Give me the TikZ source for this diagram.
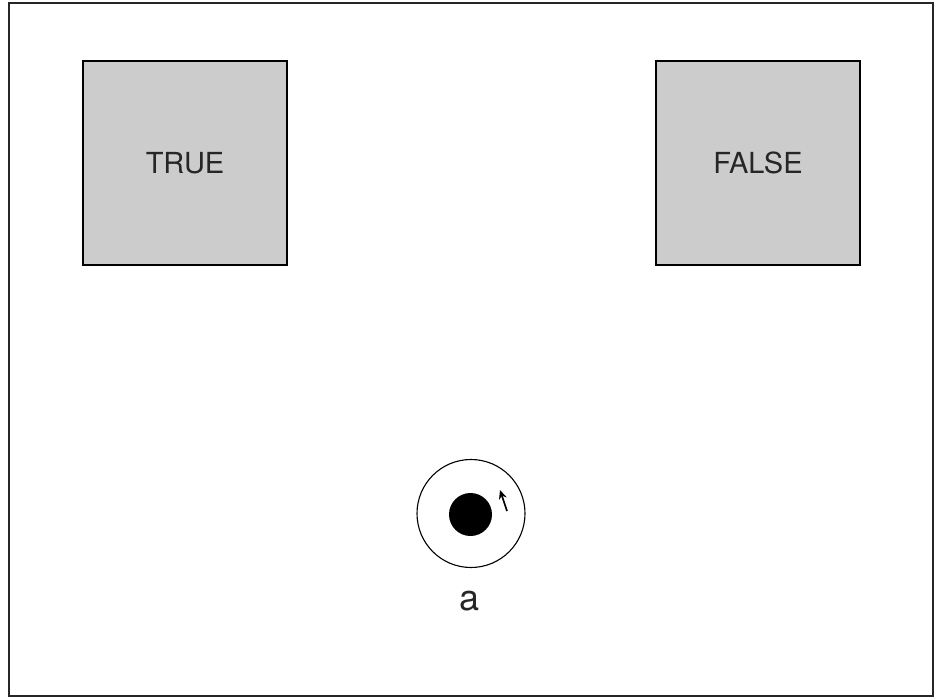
\documentclass[tikz,border=0pt]{standalone}
\usepackage{fontspec}
\setmainfont{TeX Gyre Heros}
\usetikzlibrary{arrows.meta}
\begin{document}
\begin{tikzpicture}[x=1pt,y=-1pt,
  statebox/.style={draw=black,line width=1.2pt,fill=boxgray,minimum width=204pt,minimum height=204pt,inner sep=0pt,font=\fontsize{29}{34}\selectfont\color{black!85}},
  frameline/.style={draw=black!85,line width=1.2pt}]
\definecolor{boxgray}{HTML}{CCCCCC}
\useasboundingbox (0,0) rectangle (945,698);
\draw[frameline] (9,3) rectangle (933,696);
\node[statebox] (true) at (185,163) {TRUE};
\node[statebox] (false) at (758,163) {FALSE};
\node[circle,draw=black,line width=1.1pt,minimum size=108pt,inner sep=0pt] (outer) at (471,513.5) {};
\node[circle,fill=black,minimum size=43pt,inner sep=0pt] (inner) at (470.5,514.5) {};
\coordinate (arrs) at (507,511);
\coordinate (arre) at (500,490);
\draw[line width=1.6pt,-{Stealth[length=9pt,width=8pt]}] (arrs) -- (arre);
\node[font=\fontsize{36}{40}\selectfont\color{black!85},inner sep=0pt] (lbl) at (470,601) {a};
\end{tikzpicture}
\end{document}
